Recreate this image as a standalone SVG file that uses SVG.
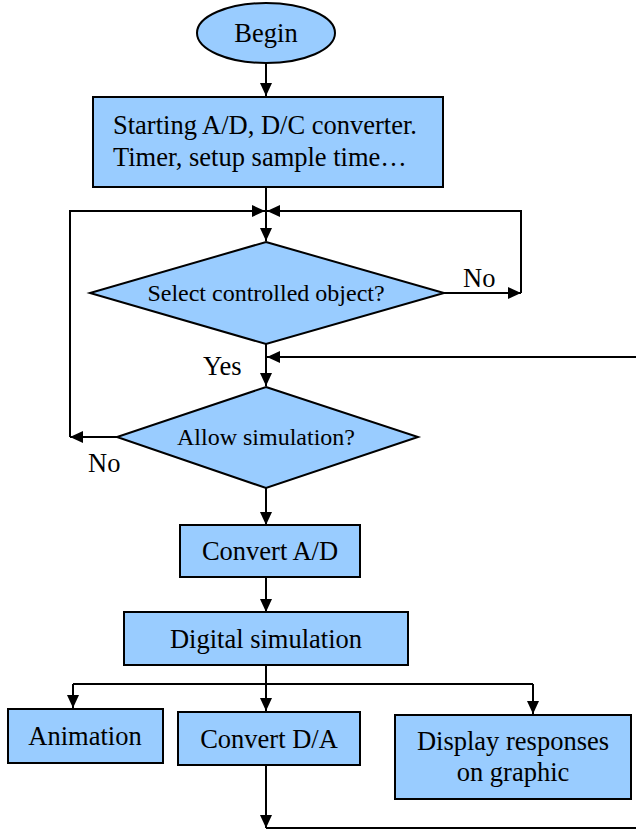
<svg xmlns="http://www.w3.org/2000/svg" width="636" height="832" viewBox="0 0 636 832">
  <style>
    .shape { fill: #99CCFF; stroke: #000; stroke-width: 2; }
    .line { fill: none; stroke: #000; stroke-width: 2; }
    text { font-family: "Liberation Serif", "Times New Roman", serif; fill: #000; }
    .big { font-size: 26.5px; }
    .mid { font-size: 24px; }
    .c { text-anchor: middle; }
  </style>
  <defs>
    <marker id="arrow" viewBox="0 0 13 12" refX="13" refY="6" markerWidth="13" markerHeight="12" markerUnits="userSpaceOnUse" orient="auto">
      <path d="M0,0 L13,6 L0,12 Z" fill="#000"/>
    </marker>
  </defs>
  <rect width="636" height="832" fill="#fff"/>

  <g id="connectors">
    <line class="line" x1="266" y1="63" x2="266" y2="96" marker-end="url(#arrow)"/>
    <line class="line" x1="266" y1="187" x2="266" y2="241" marker-end="url(#arrow)"/>
    <!-- loop back from "Allow simulation?" No branch -->
    <polyline class="line" points="70,437 70,211 265,211" marker-end="url(#arrow)"/>
    <line class="line" x1="117" y1="437" x2="70" y2="437" marker-end="url(#arrow)"/>
    <!-- loop back from "Select controlled object?" No branch -->
    <polyline class="line" points="521,293 521,211 267,211" marker-end="url(#arrow)"/>
    <line class="line" x1="444" y1="293" x2="521" y2="293" marker-end="url(#arrow)"/>
    <line class="line" x1="266" y1="344" x2="266" y2="386" marker-end="url(#arrow)"/>
    <line class="line" x1="636" y1="357" x2="267" y2="357" marker-end="url(#arrow)"/>
    <line class="line" x1="266" y1="488" x2="266" y2="525" marker-end="url(#arrow)"/>
    <line class="line" x1="266" y1="577" x2="266" y2="612" marker-end="url(#arrow)"/>
    <line class="line" x1="266" y1="665" x2="266" y2="711" marker-end="url(#arrow)"/>
    <line class="line" x1="73" y1="684" x2="533" y2="684"/>
    <line class="line" x1="73" y1="684" x2="73" y2="708" marker-end="url(#arrow)"/>
    <line class="line" x1="533" y1="684" x2="533" y2="714" marker-end="url(#arrow)"/>
    <line class="line" x1="266" y1="765" x2="266" y2="828" marker-end="url(#arrow)"/>
    <line class="line" x1="266" y1="828" x2="636" y2="828"/>
  </g>

  <g id="begin">
    <ellipse class="shape" cx="266" cy="33" rx="69" ry="30"/>
    <text class="big c" x="266" y="42">Begin</text>
  </g>

  <g id="init">
    <rect class="shape" x="93" y="97" width="350" height="90"/>
    <text class="big" x="113" y="134">Starting A/D, D/C converter.</text>
    <text class="big" x="113" y="166">Timer, setup sample time…</text>
  </g>

  <g id="select">
    <polygon class="shape" points="266,242 444,293 266,344 90,293"/>
    <text class="mid c" x="266" y="301">Select controlled object?</text>
  </g>

  <g id="allow">
    <polygon class="shape" points="266,387 418,437 266,488 117,437"/>
    <text class="mid c" x="266" y="445">Allow simulation?</text>
  </g>

  <g id="labels">
    <text class="big" x="463" y="287">No</text>
    <text class="big" x="203" y="375">Yes</text>
    <text class="big" x="88" y="472">No</text>
  </g>

  <g id="convert-ad">
    <rect class="shape" x="180" y="525" width="180" height="52"/>
    <text class="big c" x="270" y="560">Convert A/D</text>
  </g>

  <g id="digital-sim">
    <rect class="shape" x="124" y="612" width="284" height="53"/>
    <text class="big c" x="266" y="648">Digital simulation</text>
  </g>

  <g id="animation">
    <rect class="shape" x="8" y="709" width="155" height="54"/>
    <text class="big c" x="85" y="745">Animation</text>
  </g>

  <g id="convert-da">
    <rect class="shape" x="178" y="712" width="182" height="53"/>
    <text class="big c" x="269" y="748">Convert D/A</text>
  </g>

  <g id="display">
    <rect class="shape" x="395" y="715" width="236" height="84"/>
    <text class="big c" x="513" y="750">Display responses</text>
    <text class="big c" x="513" y="781">on graphic</text>
  </g>
</svg>
